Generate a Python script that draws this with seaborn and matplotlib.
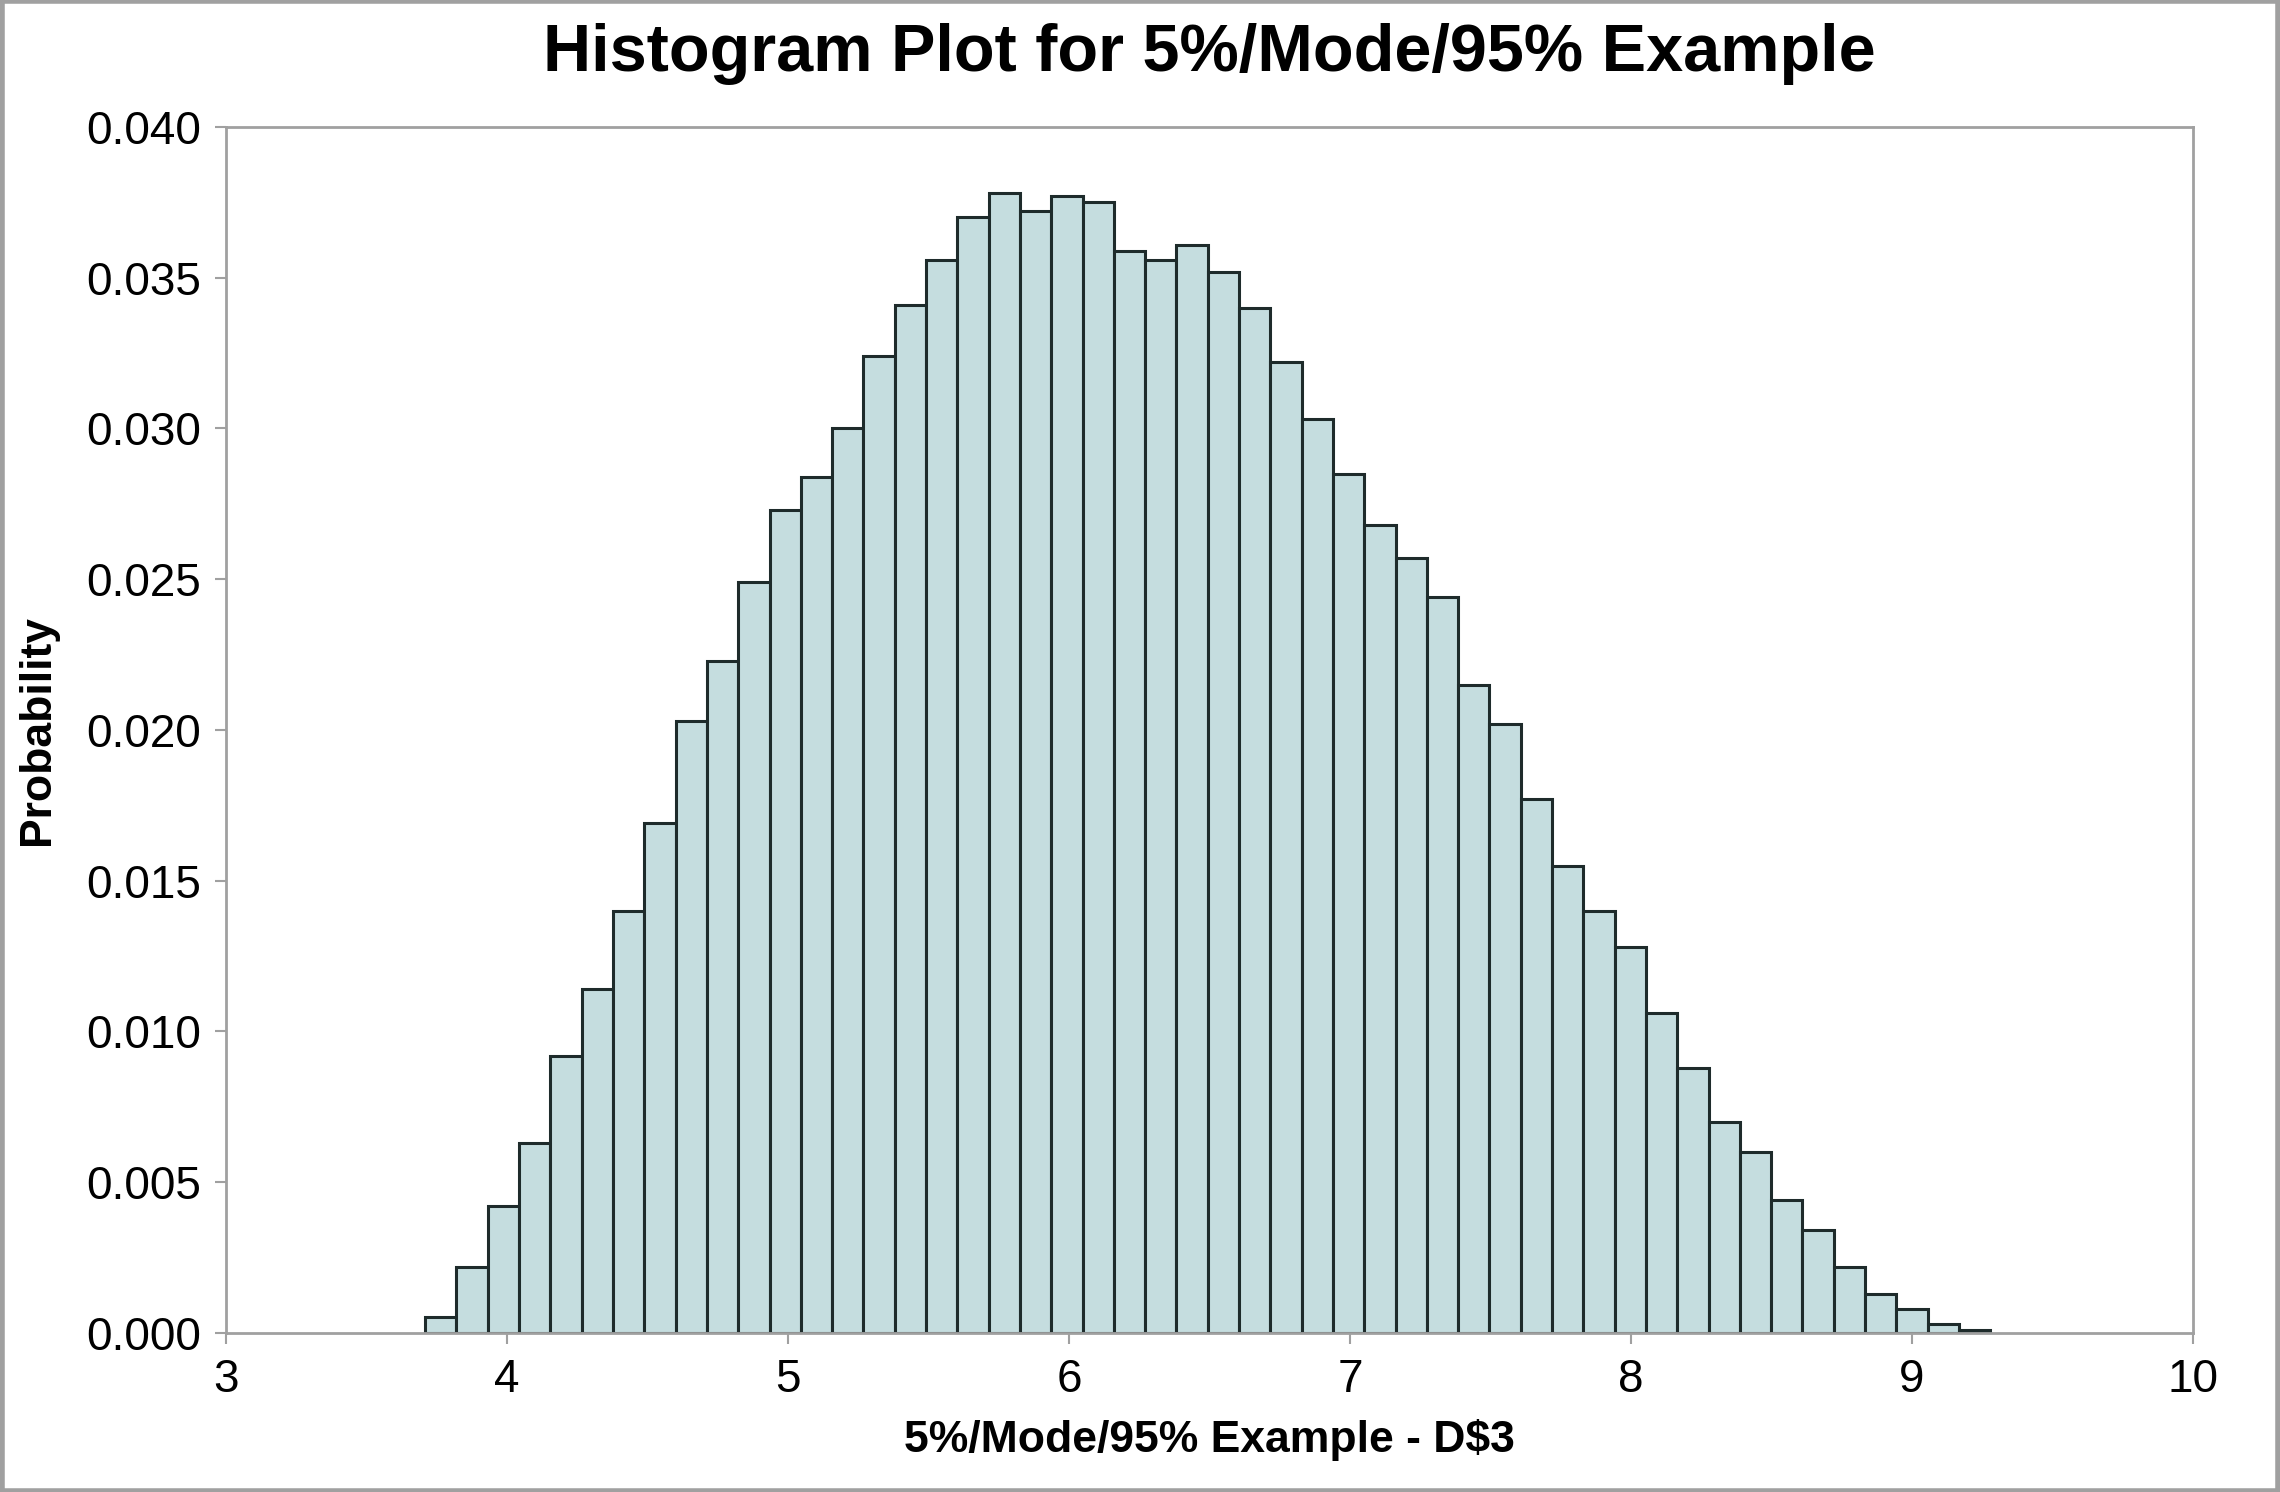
import numpy as np
import pandas as pd
import matplotlib
matplotlib.use("Agg")
import matplotlib.pyplot as plt
import seaborn as sns

# histogram bin layout
bin_start = 3.709
bin_width = 0.1114

# probability per bin (50 bins)
probs = [
    0.00053, 0.0022, 0.0042, 0.0063, 0.0092, 0.0114, 0.0140, 0.0169, 0.0203, 0.0223,
    0.0249, 0.0273, 0.0284, 0.0300, 0.0324, 0.0341, 0.0356, 0.0370, 0.0378, 0.0372,
    0.0377, 0.0375, 0.0359, 0.0356, 0.0361, 0.0352, 0.0340, 0.0322, 0.0303, 0.0285,
    0.0268, 0.0257, 0.0244, 0.0215, 0.0202, 0.0177, 0.0155, 0.0140, 0.0128, 0.0106,
    0.0088, 0.0070, 0.0060, 0.0044, 0.0034, 0.0022, 0.0013, 0.0008, 0.0003, 0.0001,
]

x_ticks = [3, 4, 5, 6, 7, 8, 9, 10]
y_ticks = [0.000, 0.005, 0.010, 0.015, 0.020, 0.025, 0.030, 0.035, 0.040]

title = "Histogram Plot for 5%/Mode/95% Example"
x_label = "5%/Mode/95% Example - D$3"
y_label = "Probability"

n = len(probs)
centers = bin_start + bin_width * (np.arange(n) + 0.5)
df = pd.DataFrame({"value": centers, "prob": probs})

sns.set_style("white")
plt.rcParams["font.family"] = ["Liberation Sans", "DejaVu Sans"]
plt.rcParams["text.color"] = "black"
plt.rcParams["axes.labelcolor"] = "black"
plt.rcParams["xtick.color"] = "black"
plt.rcParams["ytick.color"] = "black"

fig = plt.figure(figsize=(22.8, 14.92), dpi=100)
ax = fig.add_axes([0.0991, 0.1066, 0.8627, 0.8083])

sns.histplot(data=df, x="value", weights="prob", bins=n,
             binrange=(bin_start, bin_start + n * bin_width), stat="count", ax=ax,
             color="#C5DDDF", alpha=1, edgecolor="#1E2B2B", linewidth=2.2)

ax.set_xlim(3, 10)
ax.set_ylim(0, 0.040)
ax.set_xticks(x_ticks)
ax.set_yticks(y_ticks)
ax.set_yticklabels([f"{v:.3f}" for v in y_ticks])

for s in ax.spines.values():
    s.set_color("#A0A0A0")
    s.set_linewidth(2)

ax.tick_params(axis="both", direction="out", length=8, width=1.5, color="#A0A0A0",
               labelcolor="black", labelsize=33, pad=10, bottom=True, left=True)

ax.set_xlabel(x_label, fontsize=32, fontweight="bold", labelpad=12)
ax.set_ylabel(y_label, fontsize=32, fontweight="bold", labelpad=20)
ax.set_title(title, fontsize=48, fontweight="bold", pad=40)

# grey outer frame
fig.patches.append(plt.Rectangle((0.001, 0.001), 0.998, 0.998, transform=fig.transFigure,
                                 fill=False, edgecolor="#A0A0A0", linewidth=4))

fig.savefig("out.png", dpi=100)
